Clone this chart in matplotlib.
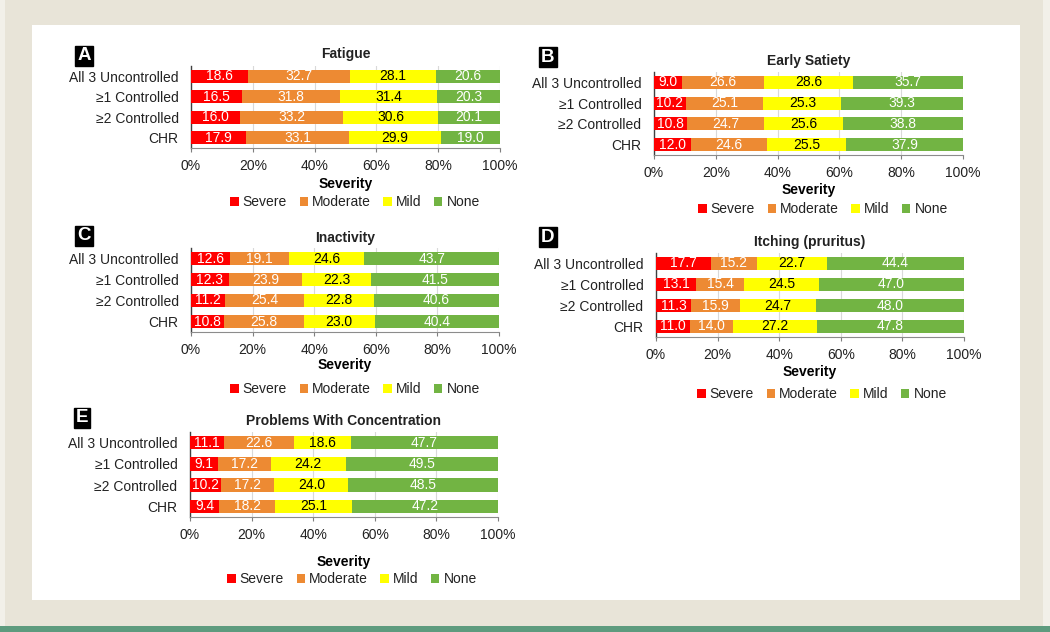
import matplotlib
matplotlib.use("Agg")
import matplotlib.pyplot as plt
from matplotlib.patches import Rectangle, Patch
import numpy as np

plt.rcParams['font.family'] = ['Liberation Sans', 'DejaVu Sans']

groups = ["All 3 Uncontrolled", "\u22651 Controlled", "\u22652 Controlled", "CHR"]
severity = ["Severe", "Moderate", "Mild", "None"]
colors = ["#FF0000", "#ED8A33", "#FFFF00", "#72B443"]
label_colors = ["white", "white", "black", "white"]

fatigue = [[18.6, 32.7, 28.1, 20.6],
           [16.5, 31.8, 31.4, 20.3],
           [16.0, 33.2, 30.6, 20.1],
           [17.9, 33.1, 29.9, 19.0]]
early_satiety = [[9.0, 26.6, 28.6, 35.7],
                 [10.2, 25.1, 25.3, 39.3],
                 [10.8, 24.7, 25.6, 38.8],
                 [12.0, 24.6, 25.5, 37.9]]
inactivity = [[12.6, 19.1, 24.6, 43.7],
              [12.3, 23.9, 22.3, 41.5],
              [11.2, 25.4, 22.8, 40.6],
              [10.8, 25.8, 23.0, 40.4]]
itching = [[17.7, 15.2, 22.7, 44.4],
           [13.1, 15.4, 24.5, 47.0],
           [11.3, 15.9, 24.7, 48.0],
           [11.0, 14.0, 27.2, 47.8]]
concentration = [[11.1, 22.6, 18.6, 47.7],
                 [9.1, 17.2, 24.2, 49.5],
                 [10.2, 17.2, 24.0, 48.5],
                 [9.4, 18.2, 25.1, 47.2]]

titles = ["Fatigue", "Early Satiety", "Inactivity", "Itching (pruritus)",
          "Problems With Concentration"]
letters = ["A", "B", "C", "D", "E"]
datasets = [fatigue, early_satiety, inactivity, itching, concentration]
xticks = [0, 20, 40, 60, 80, 100]
xticklabels = ["0%", "20%", "40%", "60%", "80%", "100%"]

W, H = 1050, 632
fig = plt.figure(figsize=(W / 100, H / 100), dpi=100)
fig.patch.set_facecolor("#F2F0E9")

def fx(x):
    return x / W

def fy(y):
    return 1 - y / H

# background frame
fig.patches.append(Rectangle((fx(5), fy(626)), fx(1043 - 5), 626 / H,
                             transform=fig.transFigure, facecolor="#E8E4D8",
                             edgecolor="none", zorder=-10))
fig.patches.append(Rectangle((fx(32), fy(600)), fx(1020 - 32), (600 - 25) / H,
                             transform=fig.transFigure, facecolor="white",
                             edgecolor="none", zorder=-9))
fig.patches.append(Rectangle((0, 0), 1, 6 / H, transform=fig.transFigure,
                             facecolor="#5E9B7E", edgecolor="none", zorder=-8))

# layout in pixels: left, right, top, bottom, title_y, sev_y, leg_y, leg_x, letter (x, y)
layout = [
    (191, 500, 66, 148, 54, 184, 202, 355, (84, 56)),
    (654, 963, 72, 155, 61, 190, 209, 823, (548, 57)),
    (191, 499, 248, 332, 238, 365, 389, 355, (84, 236)),
    (656, 964, 253, 337, 242, 372, 394, 822, (548, 237)),
    (190, 498, 432, 517, 421, 562, 579, 352, (82, 418)),
]

txt = "#222222"
fs = 10
for data, title, letter, (l, r, t, b, ty, sy, ly, lx, (bx, by)) in zip(
        datasets, titles, letters, layout):
    ax = fig.add_axes([fx(l), fy(b), (r - l) / W, (b - t) / H])
    arr = np.array(data, dtype=float)
    norm = arr / arr.sum(axis=1, keepdims=True) * 100
    ypos = np.arange(len(groups))
    left = np.zeros(len(groups))
    for j, sev in enumerate(severity):
        ax.barh(ypos, norm[:, j], left=left, height=0.63, color=colors[j],
                edgecolor="none", zorder=3, label=sev)
        for i in range(len(groups)):
            ax.text(left[i] + norm[i, j] / 2, ypos[i], f"{arr[i, j]:.1f}",
                    ha="center", va="center", fontsize=fs,
                    color=label_colors[j], zorder=4)
        left += norm[:, j]
    ax.set_xlim(0, 100)
    ax.set_ylim(3.5, -0.5)
    ax.set_yticks(ypos)
    ax.set_yticklabels(groups, fontsize=fs, color=txt)
    ax.set_xticks(xticks)
    ax.set_xticklabels(xticklabels, fontsize=fs, color=txt)
    ax.tick_params(axis="y", length=0, pad=9)
    ax.tick_params(axis="x", length=3, width=0.8, color="#7F7F7F", pad=5)
    ax.grid(axis="x", color="#D9D9D9", linewidth=0.8, zorder=0)
    ax.set_axisbelow(True)
    for s in ["top", "right"]:
        ax.spines[s].set_visible(False)
    ax.spines["left"].set_color("#404040")
    ax.spines["left"].set_linewidth(1.0)
    ax.spines["bottom"].set_color("#8C8C8C")
    ax.spines["bottom"].set_linewidth(0.8)
    cx = (l + r) / 2
    fig.text(fx(cx), fy(ty), title, ha="center", va="center", fontsize=fs,
             fontweight="bold", color=txt)
    fig.text(fx(cx), fy(sy), "Severity", ha="center", va="center",
             fontsize=fs, fontweight="bold", color="black")
    handles = [Patch(facecolor=c, edgecolor="none") for c in colors]
    ax.legend(handles, severity, loc="center", ncol=4, frameon=False,
              bbox_to_anchor=(fx(lx), fy(ly)), bbox_transform=fig.transFigure,
              fontsize=fs, handlelength=0.6, handleheight=0.6,
              handletextpad=0.3, columnspacing=0.9, borderaxespad=0,
              labelcolor=txt)
    fig.text(fx(bx), fy(by), letter, ha="center", va="center", fontsize=13.5,
             fontweight="bold", color="white",
             bbox=dict(boxstyle="square,pad=0.1", facecolor="black",
                       edgecolor="black"))

fig.savefig("out.png", dpi=100, facecolor=fig.get_facecolor())
